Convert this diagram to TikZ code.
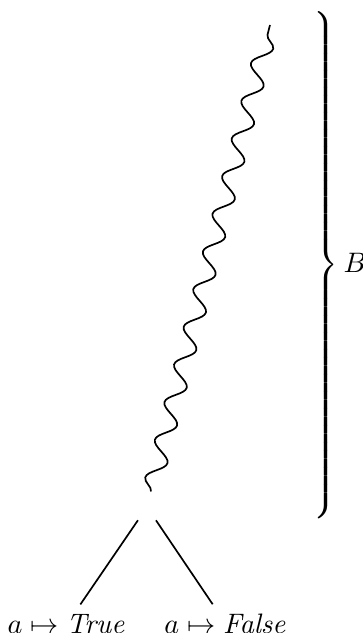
\documentclass[tikz,border=0pt]{standalone}
\usepackage{amsmath}
\usetikzlibrary{decorations.pathmorphing, positioning}
\tikzset{
    % Nodes
    rootnode/.style = {circle, inner sep=0pt, minimum size=11pt},
    leaf/.style     = {inner sep=3.333pt},
    bracenode/.style= {anchor=west, inner sep=0pt},
    % Edges
    branch/.style   = {semithick},
    wavy/.style     = {semithick, decorate, decoration={snake, segment length=13.8pt, amplitude=3.2pt}}
}
\begin{document}
\begin{tikzpicture}[x=0.355pt, y=-0.355pt]
    \useasboundingbox (0,0) rectangle (362,633);

    % Root of the split and the far end of the wavy path
    \node (root) [rootnode] at (147,507) {};
    \coordinate (tip) at (270,25);

    % Two outcomes below the root
    \node (tru) [leaf] at (67,624) {$a \mapsto \mathit{True}$};
    \node (fls) [leaf] at (226,624) {$a \mapsto \mathit{False}$};

    % Brace on the right
    \node (brc) [bracenode] at (310,265) {$\left.\vrule height 87.5pt depth 87.5pt width 0pt\right\} B$};

    \draw [wavy] (root) -- (tip);
    \draw [branch] (root) -- (tru);
    \draw [branch] (root) -- (fls);
\end{tikzpicture}
\end{document}
